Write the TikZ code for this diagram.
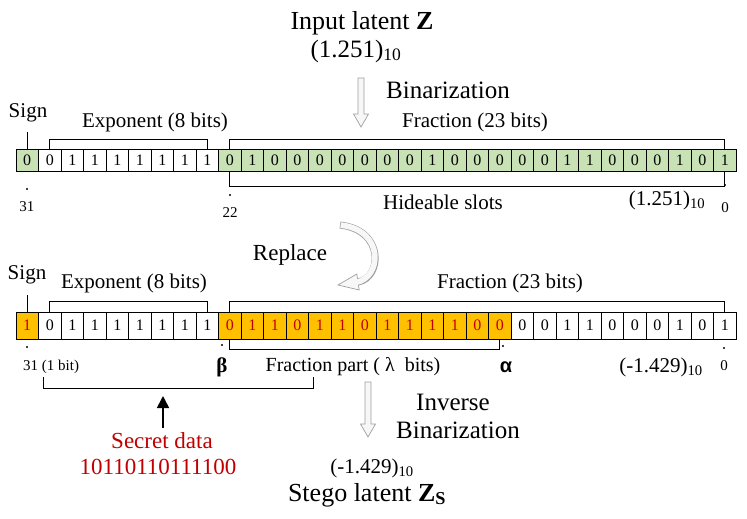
\documentclass[tikz,border=0pt]{standalone}
\usepackage{fontspec}
\setmainfont{Liberation Serif}
\newfontfamily\greeksans{Liberation Sans}
\usetikzlibrary{arrows.meta,positioning}
\definecolor{bitgreen}{RGB}{200,226,182}
\definecolor{bitorange}{RGB}{255,192,0}
\definecolor{hidered}{RGB}{192,0,0}
\newcommand{\fsz}[1]{\fontsize{#1}{#1}\selectfont}
% hollow down arrow: x, top, bottom
\newcommand{\hollowdown}[3]{%
  \filldraw[hollow] (#1-3,#2) -- (#1+3,#2) -- (#1+3,#3-13) -- (#1+7.5,#3-13)
    -- (#1,#3) -- (#1-7.5,#3-13) -- (#1-3,#3-13) -- cycle;}

\tikzset{
  cell/.style={draw, line width=0.8pt, minimum width=22.5pt, minimum height=22pt,
    inner sep=0pt, outer sep=0pt, font=\fsz{16}},
  brk/.style={line width=0.8pt},
  hollow/.style={draw=gray!75, fill=gray!6, line width=0.7pt},
  lbl/.style={inner sep=0pt, font=\fsz{21}},
  big/.style={inner sep=0pt, font=\fsz{25}},
  idx/.style={inner sep=0pt, font=\fsz{15}},
  dot/.style={circle, fill, inner sep=0pt, minimum size=2.2pt},
}

\begin{document}
\begin{tikzpicture}[x=1pt,y=-1pt]
  \useasboundingbox (0,0) rectangle (747,519);

  % input
  \node[inner sep=0pt, font=\fsz{26}] (zin) at (362,23) {Input latent \textbf{Z}};
  \node[big] (zinval) at (356,51) {(1.251)\textsubscript{10}};
  \hollowdown{361}{78}{127}
  \node[big] (bin) at (448,90) {Binarization};

  % top row
  \foreach \b [count=\i from 0] in {0,0,1,1,1,1,1,1,1,0,1,0,0,0,0,0,0,0,1,0,0,0,0,0,1,1,0,0,0,1,0,1}{
    \def\fillc{bitgreen}
    \ifnum\i>0 \ifnum\i<9 \def\fillc{white}\fi\fi
    \node[cell, fill=\fillc] (t\i) at ({27.25+22.5*\i},160) {\b};
  }
  \node[lbl] (signT) at (28,113) {Sign};
  \coordinate (signTl) at (27.25,132);
  \draw[brk] (t0.north) -- (signTl);
  \node[lbl] (expT) at (155,122) {Exponent (8 bits)};
  \node[lbl] (fracT) at (475,122) {Fraction (23 bits)};
  \draw[brk] (t1.north) -- ++(0,-10) -| (t8.north);
  \draw[brk] (t9.north) -- ++(0,-10) -| (t31.north);
  \draw[brk] (t9.south) -- ++(0,15) -| (t31.south);
  \node[lbl] (hide) at (443,202) {Hideable slots};
  \node[lbl] (tval) at (667,200) {(1.251)\textsubscript{10}};
  \node[dot] (d31) at (27,189) {};
  \node[idx] (n31) at (27,207) {31};
  \node[dot] (d22) at (230,195) {};
  \node[idx] (n22) at (230,213) {22};
  \node[dot] (d0) at (725,185) {};
  \node[idx] (n0) at (725,208) {0};

  % replace
  \node[inner sep=0pt, font=\fsz{23}] (repl) at (290,255) {Replace};
  \coordinate (rp1) at (340,225);
  \coordinate (rp2) at (385,230);
  \coordinate (rp3) at (382,278);
  \coordinate (rp4) at (358,282);
  \draw[gray!75, line width=7pt] (rp1) .. controls (rp2) and (rp3) .. (rp4);
  \filldraw[hollow] (359.2,290) -- (338,285) -- (356.8,274) -- cycle;
  \draw[gray!6, line width=5.6pt, shorten <=0.7pt, shorten >=-2pt]
    (rp1) .. controls (rp2) and (rp3) .. (rp4);

  % bottom row
  \foreach \b [count=\i from 0] in {1,0,1,1,1,1,1,1,1,0,1,1,0,1,1,0,1,1,1,1,0,0,0,0,1,1,0,0,0,1,0,1}{
    \def\fillc{white}\def\textc{black}
    \ifnum\i=0 \def\fillc{bitorange}\def\textc{hidered}\fi
    \ifnum\i>8 \ifnum\i<22 \def\fillc{bitorange}\def\textc{hidered}\fi\fi
    \node[cell, minimum height=27pt, fill=\fillc, text=\textc] (b\i) at ({27.25+22.5*\i},325.5) {\b};
  }
  \node[lbl] (signB) at (27,275) {Sign};
  \coordinate (signBl) at (27.25,295);
  \draw[brk] (b0.north) -- (signBl);
  \node[lbl] (expB) at (134,283) {Exponent (8 bits)};
  \node[lbl] (fracB) at (510,283) {Fraction (23 bits)};
  \draw[brk] (b1.north) -- ++(0,-11) -| (b8.north);
  \draw[brk] (b9.north) -- ++(0,-11) -| (b31.north);
  \draw[brk] (b9.south) -- ++(0,10) -| (b21.south);
  \node[dot] (e31) at (27,347) {};
  \node[idx, anchor=west] (e31l) at (23,367) {31 (1 bit)};
  \node[dot] (ebeta) at (222,345) {};
  \node[inner sep=0pt, font=\fsz{21}\bfseries] (beta) at (222,367) {β};
  \node[inner sep=0pt, font=\fsz{20}] (fpart) at (353,367) {Fraction part ( λ \ bits)};
  \node[dot] (ealpha) at (503,346) {};
  \node[inner sep=0pt, font=\fsz{20}\greeksans\bfseries] (alpha) at (506,367) {α};
  \node[lbl] (bval) at (661,367) {(-1.429)\textsubscript{10}};
  \node[dot] (e0) at (724,348) {};
  \node[idx] (e0l) at (724,366) {0};

  % secret data
  \coordinate (sb1) at (43,377);
  \coordinate (sb2) at (313,377);
  \draw[brk] (sb1) -- ++(0,11) -| (sb2);
  \node[inner sep=0pt, font=\fsz{23}, text=hidered] (secret) at (162,441) {Secret data};
  \node[inner sep=0pt, font=\fsz{23}, text=hidered] (secbits) at (158,467) {10110110111100};
  \coordinate (sectip) at (163,396);
  \draw[-{Triangle[width=12pt,length=12pt]}, line width=1.6pt] (163,428) -- (sectip);

  % output
  \hollowdown{368}{382}{437}
  \node[big] (inv) at (453,402) {Inverse};
  \node[big] (invbin) at (458,430) {Binarization};
  \node[lbl] (zsval) at (372,468) {(-1.429)\textsubscript{10}};
  \node[inner sep=0pt, font=\fsz{26}] (zs) at (367,495) {Stego latent \textbf{Z}\textsubscript{\textbf{S}}};
\end{tikzpicture}
\end{document}
